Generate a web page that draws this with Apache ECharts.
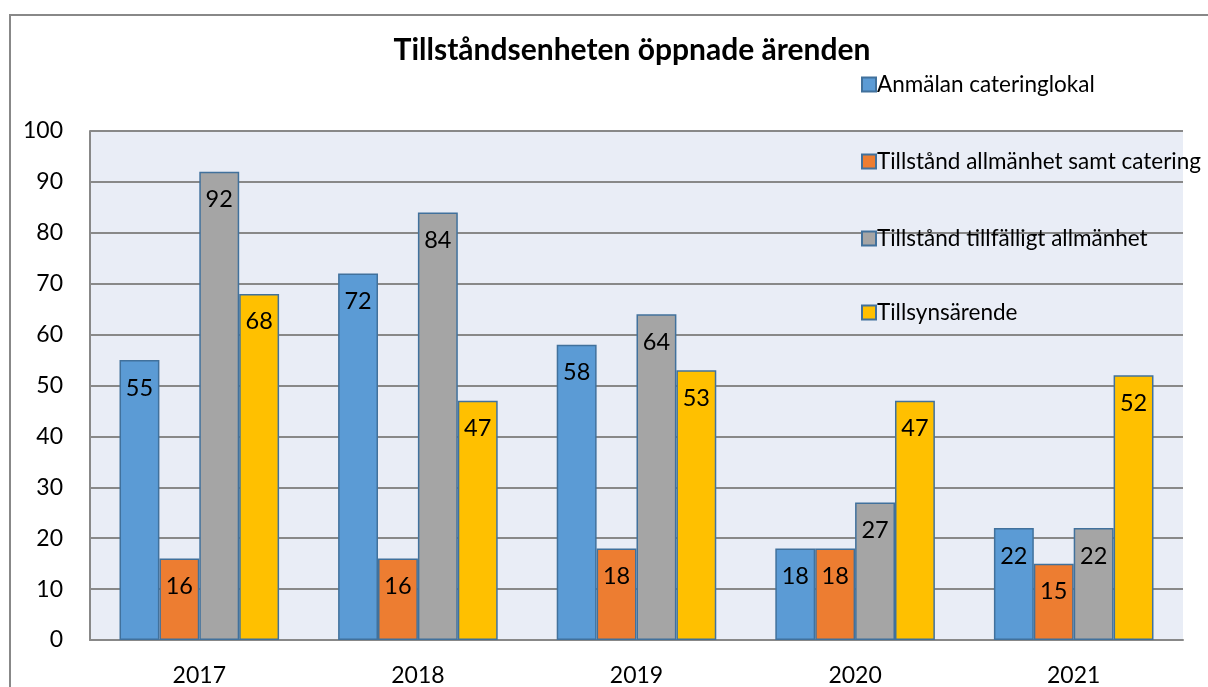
<!DOCTYPE html>
<html><head><meta charset="utf-8">
<script src="https://cdn.jsdelivr.net/npm/echarts@6/dist/echarts.min.js"></script>
<style>html,body{margin:0;padding:0;background:#fff}#c{width:1208px;height:687px}</style>
</head><body><div id="c"></div>
<script>
const categories = ['2017','2018','2019','2020','2021'];
const seriesNames = ['Anmälan cateringlokal','Tillstånd allmänhet samt catering','Tillstånd tillfälligt allmänhet','Tillsynsärende'];
const anmalan = [55, 72, 58, 18, 22];
const allmanhetCatering = [16, 16, 18, 18, 15];
const tillfalligt = [92, 84, 64, 27, 22];
const tillsyn = [68, 47, 53, 47, 52];
const colors = ['#5b9bd5','#ed7d31','#a5a5a5','#ffc000'];
const FONT = 'Lato, "Noto Sans", sans-serif';
const legendTops = [68, 145, 222, 296];

const chart = echarts.init(document.getElementById('c'));
const allData = [anmalan, allmanhetCatering, tillfalligt, tillsyn];
chart.setOption({
  animation: false,
  textStyle: {fontFamily: FONT},
  title: {text: 'Tillståndsenheten öppnade ärenden', left: 627, top: 30, textAlign: 'center',
    textStyle: {fontSize: 30, fontWeight: 'bold', color: '#000', fontFamily: FONT}},
  graphic: [{type: 'rect', shape: {x: 10, y: 15, width: 1400, height: 1000}, silent: true,
    style: {fill: 'none', stroke: '#888', lineWidth: 2}}],
  legend: seriesNames.map((n, i) => ({
    left: 856, top: legendTops[i], itemWidth: 14, itemHeight: 14, icon: 'rect',
    textStyle: {fontSize: 22.5, lineHeight: 22, color: '#000', fontFamily: FONT, padding: [0,0,0,-4]},
    data: [n]})),
  grid: {left: 90, top: 131, right: 25, bottom: 47, show: true, backgroundColor: '#e9edf6', borderWidth: 0},
  xAxis: {type: 'category', data: categories,
    axisLine: {lineStyle: {color: '#888', width: 2}}, axisTick: {show: false},
    axisLabel: {fontSize: 23, color: '#000', margin: 24, fontFamily: FONT}},
  yAxis: {type: 'value', min: 0, max: 100, interval: 10,
    axisLine: {show: true, lineStyle: {color: '#888', width: 2}}, axisTick: {show: false},
    splitLine: {lineStyle: {color: '#888', width: 2}},
    axisLabel: {fontSize: 23, color: '#000', margin: 27, fontFamily: FONT}},
  series: seriesNames.map((n, i) => ({
    name: n, type: 'bar', data: allData[i], barGap: '0%', barCategoryGap: '27%',
    itemStyle: {color: colors[i], borderColor: '#41719c', borderWidth: 1.5},
    label: {show: true, position: 'insideTop', distance: 16, fontSize: 23.5, color: '#000', fontFamily: FONT}
  }))
});
</script></body></html>
